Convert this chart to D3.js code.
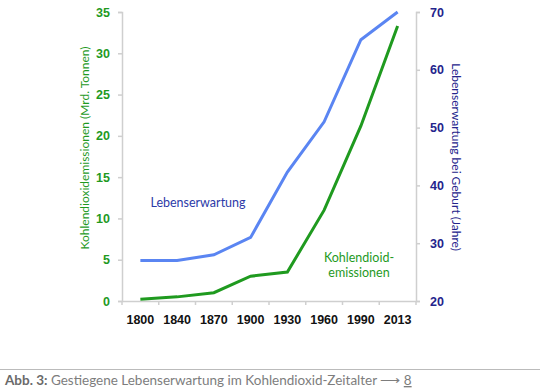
<!DOCTYPE html>
<html>
<head>
<meta charset="utf-8">
<script src="https://cdn.jsdelivr.net/npm/d3@7"></script>
<style>
  body { margin: 0; background: #fff; }
  svg { display: block; font-family: Lato, "Open Sans", sans-serif; }
</style>
</head>
<body>
<svg width="540" height="391"></svg>
<script>
// data
var years = ["1800", "1840", "1870", "1900", "1930", "1960", "1990", "2013"];
var emissions = [0.2, 0.5, 1.0, 3.0, 3.5, 11.0, 21.2, 33.3];   // Mrd. Tonnen
var lifeExp = [27, 27, 28, 31, 42.3, 51, 65.2, 70];           // Jahre
var leftTicks = [0, 5, 10, 15, 20, 25, 30, 35];
var rightTicks = [20, 30, 40, 50, 60, 70];

var green = "#1f9a1f", blue = "#5a85f2", navy = "#24248c", grey = "#cfcfcf";

var svg = d3.select("svg");

// scales
var x = d3.scaleBand().domain(years).range([122, 416]);
var yL = d3.scaleLinear().domain([0, 35]).range([301, 12]);
var yR = d3.scaleLinear().domain([20, 70]).range([301, 12]);
var cx = d => x(d) + x.bandwidth() / 2;

// left axis
var gL = svg.append("g").attr("transform", "translate(122,0)")
    .call(d3.axisLeft(yL).tickValues(leftTicks).tickSize(4).tickPadding(8));
gL.selectAll("text").style("fill", green).style("font-weight", "bold").style("font-size", "12.5px");

// right axis
var gR = svg.append("g").attr("transform", "translate(416,0)")
    .call(d3.axisRight(yR).tickValues(rightTicks).tickSize(4).tickPadding(10));
gR.selectAll("text").style("fill", navy).style("font-weight", "bold").style("font-size", "12.5px");

// bottom axis: labels at band centres, ticks at band edges
var gB = svg.append("g").attr("transform", "translate(0,301)")
    .call(d3.axisBottom(x).tickSize(0).tickPadding(14));
gB.selectAll("text").style("fill", "#111").style("font-weight", "bold").style("font-size", "12.5px");
gB.selectAll(".tick-edge")
    .data(years.map(d => x(d)).concat([x.range()[1]]))
    .enter().append("line")
    .attr("x1", d => d).attr("x2", d => d)
    .attr("y1", 0).attr("y2", 4);

svg.selectAll(".domain, .tick line, line").attr("stroke", grey).attr("stroke-width", 1.5);

// lines
var lineL = d3.line().x((d, i) => cx(years[i])).y(d => yL(d));
var lineR = d3.line().x((d, i) => cx(years[i])).y(d => yR(d));

svg.append("path").datum(lifeExp)
    .attr("d", lineR).attr("fill", "none")
    .attr("stroke", blue).attr("stroke-width", 3);

svg.append("path").datum(emissions)
    .attr("d", lineL).attr("fill", "none")
    .attr("stroke", green).attr("stroke-width", 3);

// axis titles
svg.append("text")
    .attr("transform", "translate(89,148) rotate(-90)")
    .attr("text-anchor", "middle")
    .style("font-size", "12px").style("fill", green)
    .text("Kohlendioxidemissionen (Mrd. Tonnen)");

svg.append("text")
    .attr("transform", "translate(452,157) rotate(90)")
    .attr("text-anchor", "middle")
    .style("font-size", "12px").style("fill", navy)
    .text("Lebenserwartung bei Geburt (Jahre)");

// in-plot labels
svg.append("text").attr("x", 198).attr("y", 207)
    .attr("text-anchor", "middle")
    .style("font-size", "12.5px").style("fill", "#2c3aa8")
    .text("Lebenserwartung");

svg.append("text").attr("x", 359).attr("y", 262)
    .attr("text-anchor", "middle")
    .style("font-size", "12.5px").style("fill", green)
    .text("Kohlendioid-");
svg.append("text").attr("x", 359).attr("y", 277)
    .attr("text-anchor", "middle")
    .style("font-size", "12.5px").style("fill", green)
    .text("emissionen");

// caption
svg.append("line").attr("x1", 0).attr("x2", 540).attr("y1", 369.5).attr("y2", 369.5)
    .attr("stroke", "#bbb").attr("stroke-width", 1);

var cap = svg.append("text").attr("x", 5).attr("y", 385)
    .style("font-size", "13.5px").style("fill", "#7d7d7d");
cap.append("tspan").style("font-weight", "bold").style("fill", "#6a6a6a").text("Abb. 3:");
cap.append("tspan").text(" Gestiegene Lebenserwartung im Kohlendioxid-Zeitalter ");
cap.append("tspan").text("\u27F6 ");
cap.append("tspan").style("text-decoration", "underline").text("8");
</script>
</body>
</html>
